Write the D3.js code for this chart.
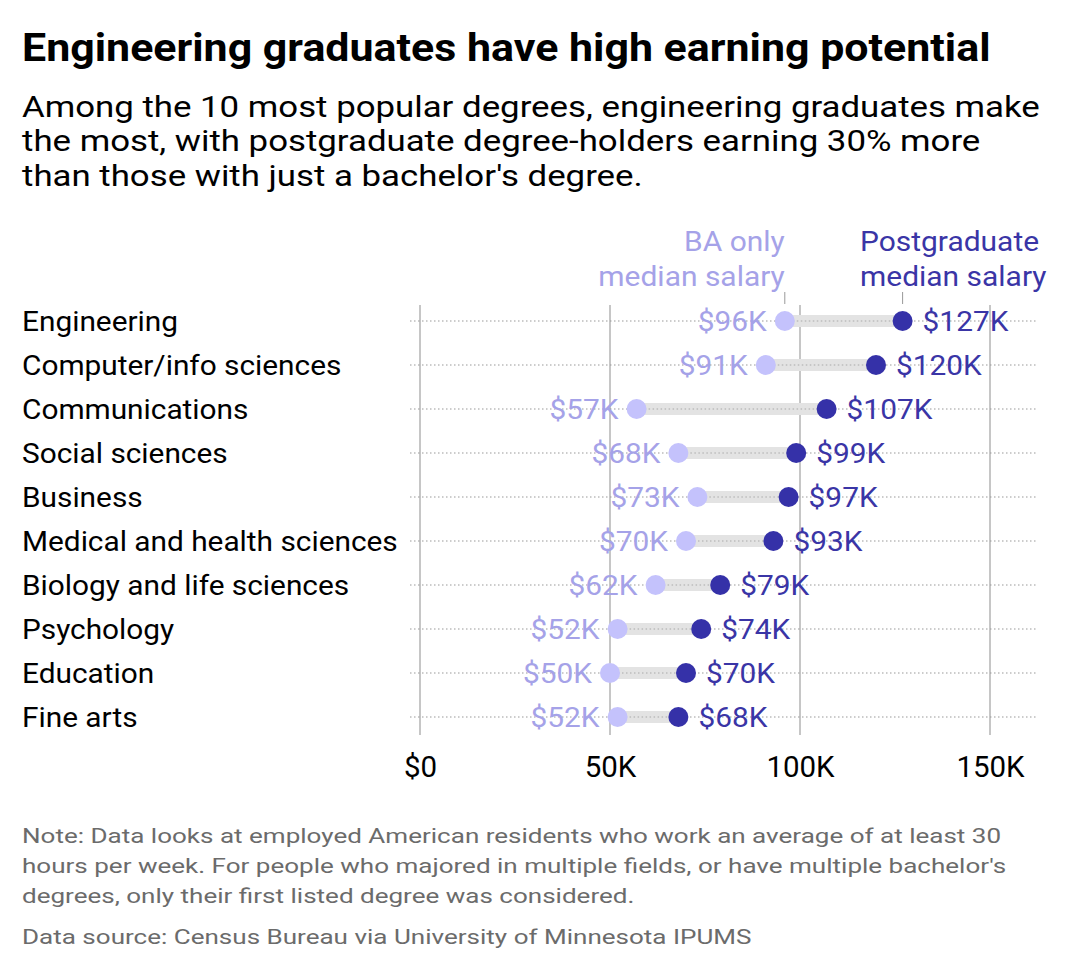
<!DOCTYPE html>
<html>
<head>
<meta charset="utf-8">
<script src="https://cdn.jsdelivr.net/npm/d3@7"></script>
<style>
  body { margin: 0; background: #fff; font-family: Roboto, sans-serif; }
  svg text { font-family: Roboto, sans-serif; }
</style>
</head>
<body>
<div id="chart"></div>
<script>
// salary data, in thousands of dollars
const degrees = ["Engineering", "Computer/info sciences", "Communications", "Social sciences",
  "Business", "Medical and health sciences", "Biology and life sciences", "Psychology",
  "Education", "Fine arts"];
const baOnly = [96, 91, 57, 68, 73, 70, 62, 52, 50, 52];
const postgrad = [127, 120, 107, 99, 97, 93, 79, 74, 70, 68];
const xTicks = [0, 50, 100, 150];
const xTickLabels = ["$0", "50K", "100K", "150K"];

const width = 1080, height = 970;

const svg = d3.select("#chart").append("svg")
  .attr("width", width)
  .attr("height", height);

// the original's lettering runs a bit wider than Roboto, so texts get a horizontal stretch
const place = (px, py, sx) => `translate(${px},${py}) scale(${sx},1)`;

// title + subtitle
svg.append("text")
  .attr("transform", place(22, 61, 1.13))
  .attr("font-size", 38).attr("font-weight", 700).attr("fill", "#000")
  .text("Engineering graduates have high earning potential");

const subtitle = [
  "Among the 10 most popular degrees, engineering graduates make",
  "the most, with postgraduate degree-holders earning 30% more",
  "than those with just a bachelor's degree."
];
svg.append("g").selectAll("text")
  .data(subtitle)
  .enter()
  .append("text")
  .attr("transform", (d, i) => place(22, 117 + i * 34.3, 1.18))
  .attr("font-size", 29.5)
  .attr("fill", "#000")
  .text(d => d);

const x = d3.scaleLinear()
  .domain([0, 150])
  .range([420, 990]);

const y = d3.scalePoint()
  .domain(degrees)
  .range([321, 717]);

// vertical gridlines
svg.append("g").selectAll("line")
  .data(xTicks)
  .enter()
  .append("line")
  .attr("x1", d => x(d)).attr("x2", d => x(d))
  .attr("y1", 305).attr("y2", 735)
  .attr("stroke", "#b3b3b3").attr("stroke-width", 1.5);

// dotted row lines
svg.append("g").selectAll("line")
  .data(degrees)
  .enter()
  .append("line")
  .attr("x1", 410).attr("x2", 1036)
  .attr("y1", d => y(d)).attr("y2", d => y(d))
  .attr("stroke", "#999").attr("stroke-width", 1.2)
  .attr("stroke-dasharray", "1.5,2.5");

// category labels
svg.append("g").selectAll("text")
  .data(degrees)
  .enter()
  .append("text")
  .attr("transform", d => place(22, y(d), 1.065))
  .attr("dy", "0.35em")
  .attr("font-size", 28)
  .attr("fill", "#000")
  .text(d => d);

const rows = degrees.map((d, i) => ({name: d, ba: baOnly[i], pg: postgrad[i]}));

// connector bars
svg.append("g").selectAll("rect")
  .data(rows)
  .enter()
  .append("rect")
  .attr("x", d => x(d.ba))
  .attr("y", d => y(d.name) - 6)
  .attr("width", d => x(d.pg) - x(d.ba))
  .attr("height", 12)
  .attr("fill", "#e3e3e3");

// dotted line shows through the bars in the original
svg.append("g").selectAll("line")
  .data(rows)
  .enter()
  .append("line")
  .attr("x1", d => x(d.ba)).attr("x2", d => x(d.pg))
  .attr("y1", d => y(d.name)).attr("y2", d => y(d.name))
  .attr("stroke", "#aaa").attr("stroke-width", 1.2)
  .attr("stroke-dasharray", "1.5,2.5");

// BA dots
svg.append("g").selectAll("circle")
  .data(rows)
  .enter()
  .append("circle")
  .attr("cx", d => x(d.ba))
  .attr("cy", d => y(d.name))
  .attr("r", 10)
  .attr("fill", "#c4c2fc");

// postgrad dots
svg.append("g").selectAll("circle")
  .data(rows)
  .enter()
  .append("circle")
  .attr("cx", d => x(d.pg))
  .attr("cy", d => y(d.name))
  .attr("r", 10)
  .attr("fill", "#3531a8");

// value labels
svg.append("g").selectAll("text")
  .data(rows)
  .enter()
  .append("text")
  .attr("transform", d => place(x(d.ba) - 18, y(d.name), 1.066))
  .attr("dy", "0.35em")
  .attr("text-anchor", "end")
  .attr("font-size", 28)
  .attr("fill", "#a5a2e8")
  .text(d => "$" + d.ba + "K");

svg.append("g").selectAll("text")
  .data(rows)
  .enter()
  .append("text")
  .attr("transform", d => place(x(d.pg) + 20, y(d.name), 1.066))
  .attr("dy", "0.35em")
  .attr("font-size", 28)
  .attr("fill", "#3a35a6")
  .text(d => "$" + d.pg + "K");

// series annotations above the first row
const firstRow = rows[0];
svg.append("g").selectAll("line")
  .data([firstRow.ba, firstRow.pg])
  .enter()
  .append("line")
  .attr("x1", d => x(d)).attr("x2", d => x(d))
  .attr("y1", 292).attr("y2", 304)
  .attr("stroke", "#999").attr("stroke-width", 1);

svg.append("g").selectAll("text")
  .data(["BA only", "median salary"])
  .enter()
  .append("text")
  .attr("transform", (d, i) => place(x(firstRow.ba), 251 + i * 35, 1.07))
  .attr("text-anchor", "end")
  .attr("font-size", 28)
  .attr("fill", "#a5a2e8")
  .text(d => d);

svg.append("g").selectAll("text")
  .data(["Postgraduate", "median salary"])
  .enter()
  .append("text")
  .attr("transform", (d, i) => place(860, 251 + i * 35, 1.07))
  .attr("font-size", 28)
  .attr("fill", "#3a35a6")
  .text(d => d);

// x axis labels
const xAxis = svg.append("g")
  .attr("transform", "translate(0,777)")
  .call(d3.axisBottom(x).tickValues(xTicks).tickSize(0).tickFormat((d, i) => xTickLabels[i]));
xAxis.select(".domain").remove();
xAxis.selectAll("text")
  .attr("font-size", 29.5)
  .attr("fill", "#000")
  .attr("font-family", "Roboto, sans-serif")
  .attr("dy", 0)
  .attr("y", 0);

// notes
const notes = [
  "Note: Data looks at employed American residents who work an average of at least 30",
  "hours per week. For people who majored in multiple fields, or have multiple bachelor's",
  "degrees, only their first listed degree was considered."
];
svg.append("g").selectAll("text")
  .data(notes)
  .enter()
  .append("text")
  .attr("transform", (d, i) => place(22, 843 + i * 30, 1.24))
  .attr("font-size", 21)
  .attr("fill", "#6b6b6b")
  .text(d => d);

svg.append("text")
  .attr("transform", place(22, 944, 1.24))
  .attr("font-size", 21)
  .attr("fill", "#6b6b6b")
  .text("Data source: Census Bureau via University of Minnesota IPUMS");
</script>
</body>
</html>
